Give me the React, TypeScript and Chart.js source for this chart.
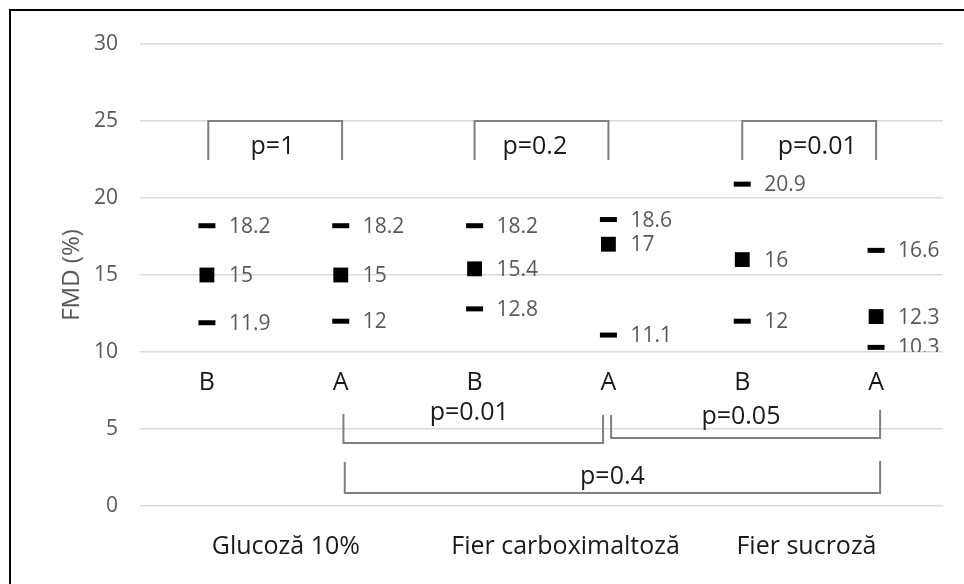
import React, { useEffect, useRef } from "react";
import { Chart, registerables } from "chart.js";

Chart.register(...registerables);

// ---- data ----
const categories = ["B", "A", "B", "A", "B", "A"];
const groupNames = ["Glucoză 10%", "Fier carboximaltoză", "Fier sucroză"];
const highValues = [18.2, 18.2, 18.2, 18.6, 20.9, 16.6];
const medianValues = [15, 15, 15.4, 17, 16, 12.3];
const lowValues = [11.9, 12, 12.8, 11.1, 12, 10.3];
const yTitle = "FMD (%)";
const yMin = 0;
const yMax = 30;
const yStep = 5;

// statistical comparisons (category index from/to, p label)
const withinTests = [
  { from: 0, to: 1, label: "p=1" },
  { from: 2, to: 3, label: "p=0.2" },
  { from: 4, to: 5, label: "p=0.01" },
];
const betweenTests = [
  { from: 1, to: 3, label: "p=0.01" },
  { from: 3, to: 5, label: "p=0.05" },
  { from: 1, to: 5, label: "p=0.4" },
];

// ---- annotation layout (in axis units) ----
const withinLayout = {
  top: 25,
  legEnd: 22.47,
  labelY: 23.3,
  labelX: [0.49, 2.45, 4.56],
  xShift: [0.01, 0.0, 0.0],
};
const betweenLayout = [
  { x1: 1.02, x2: 2.96, top1: 5.97, top2: 5.91, base: 4.09, labelX: 1.96, labelY: 6.04 },
  { x1: 3.02, x2: 5.03, top1: 5.91, top2: 6.23, base: 4.42, labelX: 3.99, labelY: 5.78 },
  { x1: 1.03, x2: 5.03, top1: 2.86, top2: 2.92, base: 0.84, labelX: 3.03, labelY: 1.88 },
];
const categoryLabelY = 8;
const groupLabelY = -2.66;
const groupLabelX = [0.59, 2.68, 4.48];
const dataLabelClip = 10;

const FONT = "'Open Sans', 'Noto Sans', sans-serif";
const BRACKET_COLOR = "#7f7f7f";
const DARK_TEXT = "#1a1a1a";
const GRAY_TEXT = "#595959";

const toPoints = (vals: number[]) => vals.map((v, i) => ({ x: i, y: v }));

const overlayPlugin = {
  id: "overlay",
  afterDatasetsDraw(chart: any) {
    const { ctx } = chart;
    const xs = chart.scales.x;
    const ys = chart.scales.y;
    const px = (v: number) => xs.getPixelForValue(v);
    const py = (v: number) => ys.getPixelForValue(v);

    // data labels
    ctx.save();
    ctx.beginPath();
    ctx.rect(0, 0, chart.width, py(dataLabelClip));
    ctx.clip();
    ctx.font = `21px ${FONT}`;
    ctx.fillStyle = GRAY_TEXT;
    ctx.textAlign = "left";
    ctx.textBaseline = "middle";
    chart.data.datasets.forEach((ds: any, di: number) => {
      const meta = chart.getDatasetMeta(di);
      meta.data.forEach((pt: any, i: number) => {
        ctx.fillText(String(ds.data[i].y), pt.x + 22, pt.y + 1);
      });
    });
    ctx.restore();

    ctx.save();
    ctx.strokeStyle = BRACKET_COLOR;
    ctx.lineWidth = 2;
    ctx.lineCap = "butt";
    ctx.lineJoin = "miter";
    // within-group brackets (top)
    withinTests.forEach((t, i) => {
      const x1 = px(t.from + withinLayout.xShift[i]);
      const x2 = px(t.to + withinLayout.xShift[i]);
      ctx.beginPath();
      ctx.moveTo(x1, py(withinLayout.legEnd));
      ctx.lineTo(x1, py(withinLayout.top));
      ctx.lineTo(x2, py(withinLayout.top));
      ctx.lineTo(x2, py(withinLayout.legEnd));
      ctx.stroke();
    });
    // between-group brackets (bottom)
    betweenTests.forEach((t, i) => {
      const l = betweenLayout[i];
      ctx.beginPath();
      ctx.moveTo(px(l.x1), py(l.top1));
      ctx.lineTo(px(l.x1), py(l.base));
      ctx.lineTo(px(l.x2), py(l.base));
      ctx.lineTo(px(l.x2), py(l.top2));
      ctx.stroke();
    });
    ctx.restore();

    ctx.save();
    ctx.fillStyle = DARK_TEXT;
    ctx.textAlign = "center";
    ctx.textBaseline = "middle";
    ctx.font = `25px ${FONT}`;
    withinTests.forEach((t, i) => {
      ctx.fillText(t.label, px(withinLayout.labelX[i]), py(withinLayout.labelY));
    });
    betweenTests.forEach((t, i) => {
      const l = betweenLayout[i];
      ctx.fillText(t.label, px(l.labelX), py(l.labelY));
    });
    categories.forEach((c, i) => {
      ctx.fillText(c, px(i), py(categoryLabelY));
    });
    groupNames.forEach((g, i) => {
      ctx.fillText(g, px(groupLabelX[i]), py(groupLabelY));
    });
    ctx.restore();
  },
};

export default function App() {
  const canvasRef = useRef<HTMLCanvasElement | null>(null);

  useEffect(() => {
    const canvas = canvasRef.current;
    if (!canvas) return;
    const chart = new Chart(canvas, {
      type: "scatter",
      data: {
        datasets: [
          {
            label: "High",
            data: toPoints(highValues),
            pointStyle: "line",
            pointRadius: 8.5,
            pointBorderWidth: 5,
            pointBorderColor: "#000",
            pointBackgroundColor: "#000",
            showLine: false,
          },
          {
            label: "Median",
            data: toPoints(medianValues),
            pointStyle: "rect",
            pointRadius: 10.5,
            pointBorderWidth: 0,
            pointBorderColor: "#000",
            pointBackgroundColor: "#000",
            showLine: false,
          },
          {
            label: "Low",
            data: toPoints(lowValues),
            pointStyle: "line",
            pointRadius: 8.5,
            pointBorderWidth: 5,
            pointBorderColor: "#000",
            pointBackgroundColor: "#000",
            showLine: false,
          },
        ],
      },
      options: {
        responsive: false,
        animation: false,
        events: [],
        layout: { padding: { top: 44, right: 21, bottom: 78, left: 0 } },
        plugins: {
          legend: { display: false },
          tooltip: { enabled: false },
        },
        scales: {
          x: {
            type: "linear",
            display: false,
            min: -0.5,
            max: categories.length - 0.5,
          },
          y: {
            min: yMin,
            max: yMax,
            ticks: {
              stepSize: yStep,
              padding: 22,
              color: GRAY_TEXT,
              font: { family: FONT, size: 21 },
            },
            grid: { color: "#d9d9d9", lineWidth: 1.5, drawTicks: false },
            border: { display: false },
            title: {
              display: true,
              text: yTitle,
              color: GRAY_TEXT,
              font: { family: FONT, size: 24 },
              padding: { top: 58, bottom: 0 },
            },
            afterFit: (scale: any) => {
              scale.width = 140;
            },
          },
        },
      },
      plugins: [overlayPlugin],
    });
    return () => chart.destroy();
  }, []);

  return (
    <div style={{ position: "fixed", left: 0, top: 0, width: 964, height: 584, background: "#fff", overflow: "hidden" }}>
      <canvas ref={canvasRef} width={964} height={584} style={{ display: "block", position: "absolute", left: 0, top: 0 }} />
      <div
        style={{
          position: "absolute",
          left: 9,
          top: 9,
          width: 1000,
          height: 1000,
          borderTop: "2px solid #000",
          borderLeft: "2px solid #000",
          pointerEvents: "none",
        }}
      />
    </div>
  );
}
